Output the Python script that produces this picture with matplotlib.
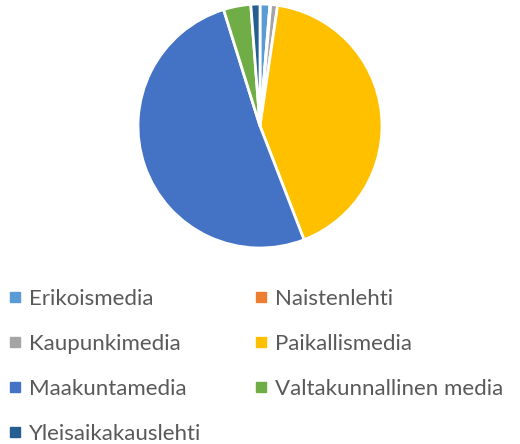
import matplotlib
matplotlib.use('Agg')
import matplotlib.pyplot as plt
from matplotlib.lines import Line2D

plt.rcParams['font.family'] = ['Lato', 'DejaVu Sans']

# ── Data ──
categories = ['Erikoismedia', 'Naistenlehti', 'Kaupunkimedia', 'Paikallismedia',
              'Maakuntamedia', 'Valtakunnallinen media', 'Yleisaikakauslehti']
shares = [1.3, 0.1, 0.9, 41.6, 50.8, 3.6, 1.2]
colors = ['#5B9BD5', '#ED7D31', '#A5A5A5', '#FFC000', '#4472C4', '#70AD47', '#255E91']

W, H = 520, 444
fig = plt.figure(figsize=(W / 100, H / 100), dpi=100)

# pie centre (260, 126) px, radius 122 px
cx, cy, r = 260, 126, 122
ax = fig.add_axes([(cx - r) / W, 1 - (cy + r) / H, 2 * r / W, 2 * r / H])
ax.pie(shares, colors=colors, startangle=90, counterclock=False, radius=1,
       wedgeprops=dict(edgecolor='white', linewidth=2))
ax.set_xlim(-1, 1)
ax.set_ylim(-1, 1)
ax.set_aspect('auto')
ax.axis('off')

# legend in row-major order, two columns
handles = [Line2D([], [], marker='s', linestyle='none', markersize=6.5,
                  color=c) for c in colors]
order = [0, 2, 4, 6, 1, 3, 5]
fig.legend([handles[i] for i in order], [categories[i] for i in order],
           ncol=2, loc='upper left', bbox_to_anchor=(1.5 / W, 1 - 280 / H),
           frameon=False, fontsize=16, labelcolor='#595959',
           handlelength=0.4, handletextpad=0.45, columnspacing=2.45,
           labelspacing=1.12, borderaxespad=0)

fig.savefig('out.png', dpi=100, facecolor='white')
